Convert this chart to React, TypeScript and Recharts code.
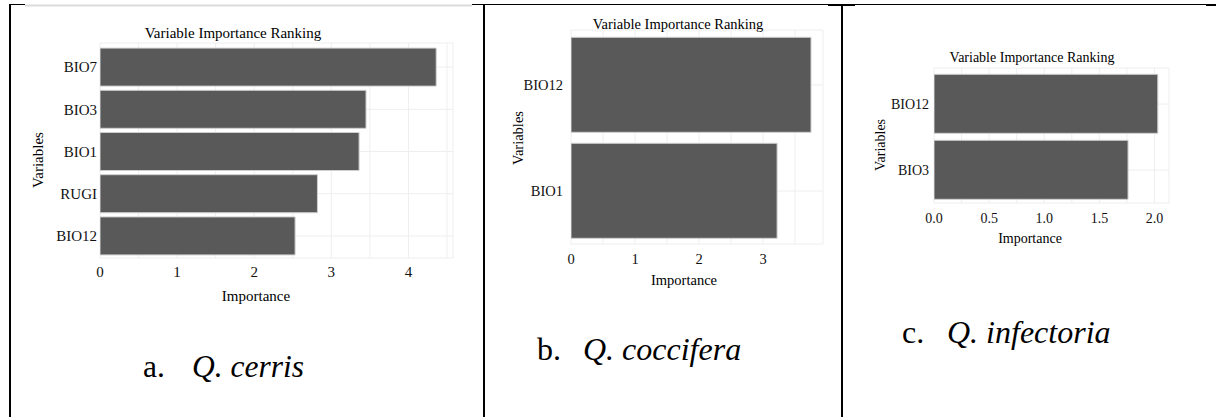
import { BarChart, Bar, XAxis, YAxis, CartesianGrid } from 'recharts'

// values
const cerrisVariables = ['BIO7', 'BIO3', 'BIO1', 'RUGI', 'BIO12']
const cerrisImportance = [4.36, 3.45, 3.36, 2.82, 2.53]
const cerrisTicks = [0, 0.5, 1, 1.5, 2, 2.5, 3, 3.5, 4, 4.5]

const cocciferaVariables = ['BIO12', 'BIO1']
const cocciferaImportance = [3.75, 3.22]
const cocciferaTicks = [0, 0.5, 1, 1.5, 2, 2.5, 3, 3.5]

const infectoriaVariables = ['BIO12', 'BIO3']
const infectoriaImportance = [2.03, 1.76]
const infectoriaTicks = [0, 0.25, 0.5, 0.75, 1, 1.25, 1.5, 1.75, 2]

const SERIF = "'Liberation Serif', 'Times New Roman', serif"

interface PanelProps {
  variables: string[]
  importance: number[]
  ticks: number[]
  labelStep: number
  digits: number
  left: number
  width: number
  margin: { top: number; right: number; bottom: number; left: number }
  pad: { top: number; bottom: number }
  fontSize: number
  xTickMargin: number
  yTickMargin: number
}

function RankingPanel({
  variables, importance, ticks, labelStep, digits, left, width,
  margin, pad, fontSize, xTickMargin, yTickMargin
}: PanelProps) {
  const rows = variables.map((name, i) => ({ name, value: importance[i] }))
  const upper = Math.max(...importance) * 1.05
  const fmt = (v: number) => {
    const k = v / labelStep
    return Math.abs(k - Math.round(k)) < 1e-6 ? v.toFixed(digits) : ''
  }
  return (
    <div style={{ position: 'absolute', left, top: 0 }}>
      <BarChart
        width={width}
        height={300}
        layout="vertical"
        data={rows}
        margin={margin}
        barCategoryGap="5%"
      >
        <CartesianGrid stroke="#eeeeee" strokeWidth={1} />
        <XAxis
          type="number"
          domain={[0, upper]}
          ticks={ticks}
          interval={0}
          tickFormatter={fmt}
          tickLine={false}
          axisLine={false}
          tickSize={0}
          tickMargin={xTickMargin}
          height={40}
          allowDataOverflow
          tick={{ fill: '#111', fontSize, fontFamily: SERIF }}
        />
        <YAxis
          type="category"
          dataKey="name"
          width={60}
          interval={0}
          tickLine={false}
          axisLine={false}
          tickSize={0}
          tickMargin={yTickMargin}
          padding={pad}
          tick={{ fill: '#111', fontSize, fontFamily: SERIF }}
        />
        <Bar dataKey="value" fill="#595959" stroke="#cfcfcf" strokeWidth={1} isAnimationActive={false} />
      </BarChart>
    </div>
  )
}

function Caption({ x, qx, y, size, letter, species }: { x: number; qx: number; y: number; size: number; letter: string; species: string }) {
  return (
    <>
      <text x={x} y={y} fontSize={size} fill="#000">{letter}</text>
      <text x={qx} y={y} fontSize={size} fontStyle="italic" fill="#000">{species}</text>
    </>
  )
}

export default function App() {
  return (
    <div style={{ position: 'absolute', left: 0, top: 0, width: 1216, height: 417, background: '#fff', fontFamily: SERIF, overflow: 'hidden' }}>
      <RankingPanel
        variables={cerrisVariables}
        importance={cerrisImportance}
        ticks={cerrisTicks}
        labelStep={1}
        digits={0}
        left={12}
        width={460}
        margin={{ top: 43, right: 19, bottom: 2, left: 28 }}
        pad={{ top: 3, bottom: 1 }}
        fontSize={15}
        xTickMargin={8}
        yTickMargin={3}
      />
      <RankingPanel
        variables={cocciferaVariables}
        importance={cocciferaImportance}
        ticks={cocciferaTicks}
        labelStep={1}
        digits={0}
        left={486}
        width={350}
        margin={{ top: 30, right: 13, bottom: 16, left: 25 }}
        pad={{ top: 2, bottom: 0 }}
        fontSize={14.5}
        xTickMargin={10}
        yTickMargin={8}
      />
      <RankingPanel
        variables={infectoriaVariables}
        importance={infectoriaImportance}
        ticks={infectoriaTicks}
        labelStep={0.5}
        digits={1}
        left={844}
        width={372}
        margin={{ top: 68, right: 47, bottom: 57, left: 30 }}
        pad={{ top: 3, bottom: 0 }}
        fontSize={14}
        xTickMargin={10}
        yTickMargin={5}
      />

      {/* table borders, titles, axis titles and captions */}
      <svg width={1216} height={417} style={{ position: 'absolute', left: 0, top: 0, pointerEvents: 'none' }} fontFamily={SERIF}>
        <line x1={9} x2={25} y1={4.5} y2={4.5} stroke="#000" strokeWidth={1} />
        <line x1={25} x2={472} y1={5.5} y2={5.5} stroke="#dcdcdc" strokeWidth={2} />
        <line x1={472} x2={1216} y1={4.5} y2={4.5} stroke="#000" strokeWidth={1} />
        <rect x={828} y={4} width={27} height={2} fill="#000" />
        <rect x={1206} y={4} width={10} height={2} fill="#000" />
        <rect x={9} y={4} width={2} height={413} fill="#000" />
        <rect x={483} y={4} width={2} height={413} fill="#000" />
        <rect x={841} y={4} width={2} height={413} fill="#000" />

        <text x={233} y={33} fontSize={15} textAnchor="middle" dominantBaseline="central" fill="#000">Variable Importance Ranking</text>
        <text x={38} y={160} fontSize={15} textAnchor="middle" dominantBaseline="central" fill="#000" transform="rotate(-90 38 160)">Variables</text>
        <text x={256} y={296} fontSize={15} textAnchor="middle" dominantBaseline="central" fill="#000">Importance</text>

        <text x={678} y={24} fontSize={14.5} textAnchor="middle" dominantBaseline="central" fill="#000">Variable Importance Ranking</text>
        <text x={518} y={138} fontSize={14.5} textAnchor="middle" dominantBaseline="central" fill="#000" transform="rotate(-90 518 138)">Variables</text>
        <text x={684} y={280} fontSize={14.5} textAnchor="middle" dominantBaseline="central" fill="#000">Importance</text>

        <text x={1032} y={57} fontSize={14} textAnchor="middle" dominantBaseline="central" fill="#000">Variable Importance Ranking</text>
        <text x={880} y={145} fontSize={14} textAnchor="middle" dominantBaseline="central" fill="#000" transform="rotate(-90 880 145)">Variables</text>
        <text x={1030} y={238} fontSize={14} textAnchor="middle" dominantBaseline="central" fill="#000">Importance</text>

        <Caption x={143} qx={192} y={377} size={31.5} letter="a." species="Q. cerris" />
        <Caption x={537} qx={583} y={360} size={32} letter="b." species="Q. coccifera" />
        <Caption x={902} qx={947} y={343} size={32} letter="c." species="Q. infectoria" />
      </svg>
    </div>
  )
}
